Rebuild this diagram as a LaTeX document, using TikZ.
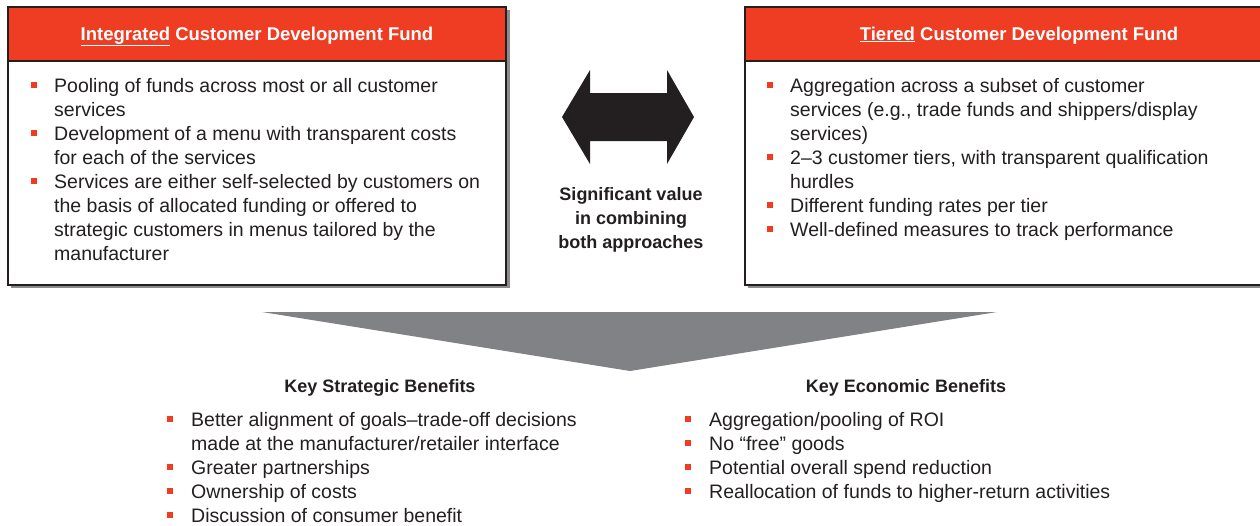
\documentclass[tikz,border=0pt]{standalone}
\usepackage{fontspec}
\setmainfont{Liberation Sans}
\definecolor{fundred}{HTML}{EE3D23}
\definecolor{ink}{HTML}{231F20}
\definecolor{funnelgray}{HTML}{808285}
\definecolor{shadowgray}{HTML}{8C8C8C}

% stacked lines whose baseline is that of the first line
\newcommand\leftlines[1]{\vtop{\halign{##\hfil\cr#1\crcr}}}
\newcommand\centerlines[1]{\vtop{\halign{\hfil##\hfil\cr#1\crcr}}}

\begin{document}
\begin{tikzpicture}[x=1pt,y=-1pt,
  bodytext/.style={anchor=base west, inner sep=0pt, text=ink,
    font=\fontsize{19.5}{24}\selectfont},
  titletext/.style={anchor=base, inner sep=0pt, text=white,
    font=\bfseries\fontsize{18.5}{22}\selectfont},
  headtext/.style={anchor=base, inner sep=0pt, text=ink,
    font=\bfseries\fontsize{18}{24}\selectfont},
  midtext/.style={anchor=base, inner sep=0pt, text=ink,
    font=\bfseries\fontsize{18}{24}\selectfont},
  bullet/.style={rectangle, fill=fundred, minimum size=5.5pt, inner sep=0pt},
  boxline/.style={draw=ink, line width=1.3pt}
]
\useasboundingbox (0,0) rectangle (1260,525);
\clip (0,0) rectangle (1260,525);

% ---- Integrated fund box ----
\fill[shadowgray] (11,10) rectangle (510,288);
\fill[white] (8,7) rectangle (506,285);
\fill[fundred] (8,7) rectangle (506,61);
\draw[boxline] (8,61) -- (506,61);
\draw[boxline] (8,7) rectangle (506,285);
\node[titletext] (ltitle) at (257,40) {\underline{Integrated} Customer Development Fund};

\node[bullet] (lb1) at (34,85) {};
\node[bodytext] (l1) at (54,92) {\leftlines{Pooling of funds across most or all customer\cr services}};
\node[bullet] (lb2) at (34,133) {};
\node[bodytext] (l2) at (54,140) {\leftlines{Development of a menu with transparent costs\cr for each of the services}};
\node[bullet] (lb3) at (34,181) {};
\node[bodytext] (l3) at (54,188) {\leftlines{Services are either self-selected by customers on\cr the basis of allocated funding or offered to\cr strategic customers in menus tailored by the\cr manufacturer}};

% ---- Tiered fund box ----
\fill[shadowgray] (748,10) rectangle (1297,288);
\fill[white] (745,7) rectangle (1293,285);
\fill[fundred] (745,7) rectangle (1293,61);
\draw[boxline] (745,61) -- (1293,61);
\draw[boxline] (745,7) rectangle (1293,285);
\node[titletext] (rtitle) at (1019,40) {\underline{Tiered} Customer Development Fund};

\node[bullet] (rb1) at (770,85) {};
\node[bodytext] (r1) at (790,92) {\leftlines{Aggregation across a subset of customer\cr services (e.g., trade funds and shippers/display\cr services)}};
\node[bullet] (rb2) at (770,157) {};
\node[bodytext] (r2) at (790,164) {\leftlines{2–3 customer tiers, with transparent qualification\cr hurdles}};
\node[bullet] (rb3) at (770,205) {};
\node[bodytext] (r3) at (790,212) {Different funding rates per tier};
\node[bullet] (rb4) at (770,229) {};
\node[bodytext] (r4) at (790,236) {Well-defined measures to track performance};

% ---- double-headed arrow between the funds ----
\fill[ink] (562,117) -- (590,70) -- (590,93) -- (667,93) -- (667,70) -- (694,117)
  -- (667,164) -- (667,141) -- (590,141) -- (590,164) -- cycle;
\node[midtext] (mid) at (631,200) {\centerlines{Significant value\cr in combining\cr both approaches}};

% ---- funnel ----
\fill[funnelgray] (262,312) -- (997,312) -- (630,371) -- cycle;

% ---- strategic benefits ----
\node[headtext] (strat) at (380,392) {Key Strategic Benefits};
\node[bullet] (sb1) at (170,419) {};
\node[bodytext] (s1) at (191,426) {\leftlines{Better alignment of goals–trade-off decisions\cr made at the manufacturer/retailer interface}};
\node[bullet] (sb2) at (170,467) {};
\node[bodytext] (s2) at (191,474) {Greater partnerships};
\node[bullet] (sb3) at (170,491) {};
\node[bodytext] (s3) at (191,498) {Ownership of costs};
\node[bullet] (sb4) at (170,515) {};
\node[bodytext] (s4) at (191,522) {Discussion of consumer benefit};

% ---- economic benefits ----
\node[headtext] (econ) at (906,392) {Key Economic Benefits};
\node[bullet] (eb1) at (688,419) {};
\node[bodytext] (e1) at (709,426) {Aggregation/pooling of ROI};
\node[bullet] (eb2) at (688,443) {};
\node[bodytext] (e2) at (709,450) {No “free” goods};
\node[bullet] (eb3) at (688,467) {};
\node[bodytext] (e3) at (709,474) {Potential overall spend reduction};
\node[bullet] (eb4) at (688,491) {};
\node[bodytext] (e4) at (709,498) {Reallocation of funds to higher-return activities};
\end{tikzpicture}
\end{document}
